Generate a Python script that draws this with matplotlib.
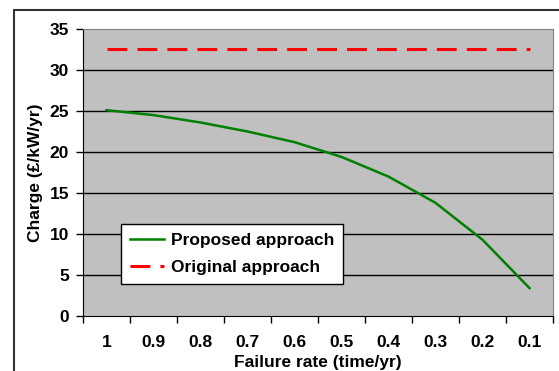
import matplotlib.pyplot as plt
from matplotlib.patches import Rectangle

plt.rcParams['font.family'] = ['Liberation Sans', 'DejaVu Sans']
plt.rcParams['font.weight'] = 'bold'

rates = ["1", "0.9", "0.8", "0.7", "0.6", "0.5", "0.4", "0.3", "0.2", "0.1"]
proposed = [25.1, 24.5, 23.6, 22.5, 21.2, 19.4, 17.0, 13.8, 9.3, 3.4]
original = [32.6] * 10

FS = 12.5


def main():
    fig = plt.figure(figsize=(5.59, 3.71), dpi=100)
    # outer chart frame (runs off the right/bottom edges)
    fig.patches.append(Rectangle((14 / 559, -0.05), 1.2, (371 - 10) / 371 + 0.05,
                                 transform=fig.transFigure, fill=False,
                                 edgecolor='#333333', linewidth=1.5))
    ax = fig.add_axes([83 / 559, 55 / 371, 470 / 559, 287 / 371])
    ax.set_facecolor('#C0C0C0')
    x = list(range(len(rates)))
    ax.plot(x, proposed, color='#008000', lw=1.8, label='Proposed approach', zorder=3)
    ax.plot(x, original, color='#FF0000', lw=2.2, dashes=(6.5, 3.3),
            label='Original approach', zorder=3)

    ax.set_xlim(-0.5, 9.5)
    ax.set_ylim(0, 35)
    ax.set_yticks(range(0, 36, 5))
    ax.set_xticks(x)
    ax.set_xticklabels(rates)
    ax.set_xticks([i - 0.5 for i in range(11)], minor=True)
    ax.tick_params(axis='x', which='major', length=0, pad=14, labelsize=FS)
    ax.tick_params(axis='x', which='minor', length=5, width=1, direction='out')
    ax.tick_params(axis='y', length=5, width=1, direction='out', pad=5, labelsize=FS)
    for t in ax.get_xticklabels() + ax.get_yticklabels():
        t.set_fontweight('bold')

    for y in range(5, 31, 5):
        ax.axhline(y, color='black', lw=1, zorder=1)
    for s in ['top', 'right']:
        ax.spines[s].set_color('#808080')
    for s in ['left', 'bottom']:
        ax.spines[s].set_color('black')

    ax.set_xlabel('Failure rate (time/yr)', fontsize=FS, fontweight='bold', labelpad=3)
    ax.set_ylabel('Charge (£/kW/yr)', fontsize=FS, fontweight='bold', labelpad=5)

    leg = ax.legend(loc='upper left', bbox_to_anchor=(0.081, 0.32), borderaxespad=0,
                    fancybox=False, edgecolor='black', framealpha=1,
                    prop={'weight': 'bold', 'size': FS}, handlelength=2.0,
                    handletextpad=0.4, labelspacing=0.7, borderpad=0.5)
    leg.get_frame().set_linewidth(1)

    plt.savefig('out.png', dpi=100)


if __name__ == '__main__':
    main()
